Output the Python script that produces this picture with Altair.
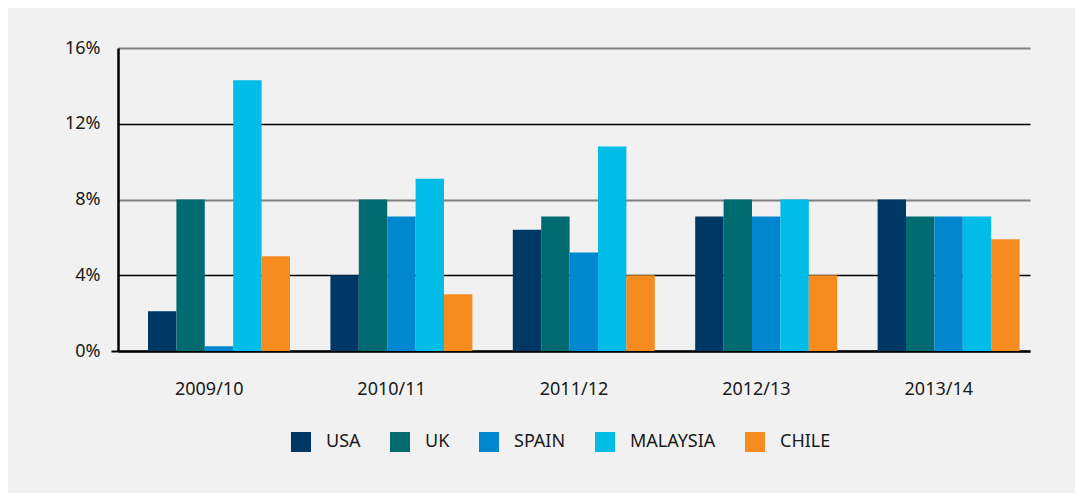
import altair as alt
import pandas as pd

years = ["2009/10", "2010/11", "2011/12", "2012/13", "2013/14"]
countries = ["USA", "UK", "SPAIN", "MALAYSIA", "CHILE"]
colors = ["#003865", "#006a71", "#0087cf", "#00bce6", "#f68b1f"]

usa = [2.1, 4.0, 6.4, 7.1, 8.0]
uk = [8.0, 8.0, 7.1, 8.0, 7.1]
spain = [0.25, 7.1, 5.2, 7.1, 7.1]
malaysia = [14.3, 9.1, 10.8, 8.0, 7.1]
chile = [5.0, 3.0, 4.0, 4.0, 5.9]

series = [usa, uk, spain, malaysia, chile]
rows = []
for c, vals in zip(countries, series):
    for y, v in zip(years, vals):
        rows.append({"year": y, "country": c, "value": v})
df = pd.DataFrame(rows)

FONT = "Noto Sans"

bars = alt.Chart(df).mark_bar().encode(
    x=alt.X("year:N", sort=years, title=None,
            scale=alt.Scale(paddingInner=0, paddingOuter=0),
            axis=alt.Axis(labelAngle=0, ticks=False, tickSize=0, labelPadding=29,
                          labelFontSize=18, labelColor="#1a1a1a", labelFont=FONT,
                          domainColor="#000000", domainWidth=2.5, grid=False)),
    xOffset=alt.XOffset("country:N", sort=countries,
                        scale=alt.Scale(range=[30, 172], paddingInner=0, paddingOuter=0)),
    y=alt.Y("value:Q", title=None,
            scale=alt.Scale(domain=[0, 16], nice=False),
            axis=alt.Axis(values=[0, 4, 8, 12, 16], labelExpr="datum.value + '%'",
                          labelFontSize=18, labelColor="#1a1a1a", labelFont=FONT,
                          labelPadding=11, tickSize=7, tickWidth=2,
                          tickColor={"condition": {"test": "datum.value == 0", "value": "#000000"},
                                     "value": "transparent"},
                          domainColor="#000000", domainWidth=2.5,
                          grid=True,
                          gridColor={"condition": {"test": "datum.value % 8 == 0", "value": "#7f7f7f"},
                                     "value": "#000000"},
                          gridWidth={"condition": {"test": "datum.value % 8 == 0", "value": 2},
                                     "value": 1.5})),
    color=alt.Color("country:N", sort=countries,
                    scale=alt.Scale(domain=countries, range=colors),
                    legend=alt.Legend(title=None, orient="none", direction="horizontal",
                                      legendX=173, legendY=384, padding=0,
                                      symbolType="square", symbolSize=400,
                                      symbolStrokeWidth=0, symbolOpacity=1,
                                      labelFontSize=18, labelFont=FONT, labelColor="#1a1a1a",
                                      labelOffset=15, columnPadding=29)),
)

chart = bars.properties(
    width=912, height=303,
    autosize=alt.AutoSizeParams(type="none"),
    padding={"left": 110, "top": 40, "right": 45, "bottom": 142},
    background="#f1f1f1",
).configure_view(stroke=None)

chart.save("out.html", embed_options={"renderer": "svg", "actions": False})
